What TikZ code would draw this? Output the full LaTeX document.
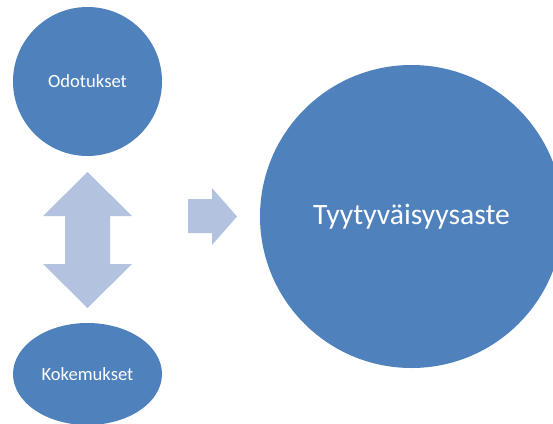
\documentclass[tikz,border=0pt]{standalone}
\usepackage{fontspec}
\setmainfont{Carlito}
\usetikzlibrary{shapes.geometric}
\definecolor{blobblue}{HTML}{4F81BD}
\definecolor{arrowblue}{HTML}{B3C3DF}
\begin{document}
\begin{tikzpicture}[x=1pt,y=-1pt,
  blob/.style={fill=blobblue,draw=none,inner sep=0pt,text=white,font=\fontsize{18.6}{20}\selectfont},
  blockarrow/.style={fill=arrowblue,draw=none}]
\useasboundingbox (0,0) rectangle (553,423);
\clip (0,0) rectangle (553,423);
\node[blob,circle,minimum size=149pt] (odo) at (87.5,81.5) {Odotukset};
\node[blob,ellipse,minimum width=149pt,minimum height=102pt] (koke) at (87.5,374) {Kokemukset};
\node[blob,circle,minimum size=303pt,font=\fontsize{29.6}{32}\selectfont] (tyy) at (411.5,216.5) {Tyytyväisyysaste};
\fill[blockarrow] (87.5,172) -- (132,216) -- (110,216) -- (110,264) -- (132,264) -- (87.5,308) -- (43,264) -- (65,264) -- (65,216) -- (43,216) -- cycle;
\fill[blockarrow] (188,199) -- (212,199) -- (212,188) -- (237,216.5) -- (212,245) -- (212,233) -- (188,233) -- cycle;
\end{tikzpicture}
\end{document}
